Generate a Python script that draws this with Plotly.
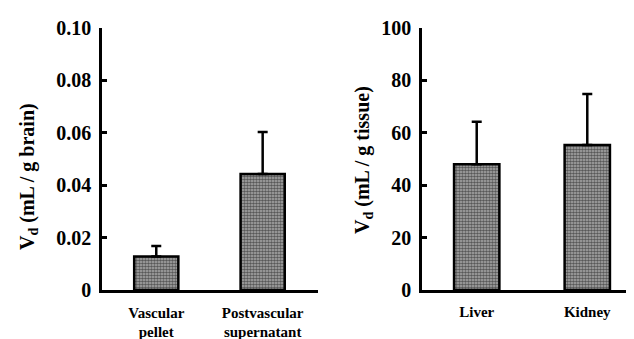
import plotly.graph_objects as go

# Data
brain_categories = ["Vascular<br>pellet", "Postvascular<br>supernatant"]
brain_values = [0.0128, 0.0443]
brain_errors = [0.0040, 0.0160]

tissue_categories = ["Liver", "Kidney"]
tissue_values = [48.0, 55.3]
tissue_errors = [16.2, 19.5]

brain_tickvals = [0, 0.02, 0.04, 0.06, 0.08, 0.10]
brain_ticktext = ["0", "0.02", "0.04", "0.06", "0.08", "0.10"]
tissue_tickvals = [0, 20, 40, 60, 80, 100]
tissue_ticktext = ["0", "20", "40", "60", "80", "100"]

FONT = "Liberation Serif, Times New Roman, serif"

def bar_trace(x, y, err, xa, ya, width):
    return go.Bar(
        x=x, y=y, xaxis=xa, yaxis=ya, width=width,
        marker=dict(
            color="white",
            line=dict(color="black", width=2.5),
            pattern=dict(shape=".", fgcolor="black", bgcolor="#b0b0b0", size=3, solidity=0.6),
        ),
        error_y=dict(type="data", array=err, arrayminus=[0] * len(err), symmetric=False,
                     color="black", thickness=2.5, width=5),
        showlegend=False,
    )

fig = go.Figure()
fig.add_trace(bar_trace(brain_categories, brain_values, brain_errors, "x", "y", 0.415))
fig.add_trace(bar_trace(tissue_categories, tissue_values, tissue_errors, "x2", "y2", 0.41))

W, H = 634, 339
axis_common = dict(showline=True, linecolor="black", linewidth=2.5, showgrid=False, zeroline=False)
tickfont = dict(family=FONT, size=20, color="black", weight="bold")
xtickfont = dict(family=FONT, size=15, color="black", weight="bold")

fig.update_layout(
    width=W, height=H,
    margin=dict(l=0, r=0, t=20, b=57),
    plot_bgcolor="white", paper_bgcolor="white",
    xaxis=dict(domain=[94 / W, 310 / W], range=[-0.51, 1.52], anchor="y",
               ticks="", tickfont=xtickfont, ticklabelstandoff=7, **axis_common),
    yaxis=dict(domain=[0, 1], range=[0, 0.1], anchor="x", tickvals=brain_tickvals,
               ticktext=brain_ticktext, ticks="inside", ticklen=5, tickwidth=2.5, tickcolor="black",
               tickfont=tickfont, ticklabelstandoff=4, **axis_common),
    xaxis2=dict(domain=[414 / W, 1.0], range=[-0.495, 1.495], anchor="y2",
                ticks="", tickfont=xtickfont, ticklabelstandoff=6, **axis_common),
    yaxis2=dict(domain=[0, 1], range=[0, 100], anchor="x2", tickvals=tissue_tickvals,
                ticktext=tissue_ticktext, ticks="inside", ticklen=5, tickwidth=2.5, tickcolor="black",
                tickfont=tickfont, ticklabelstandoff=4, **axis_common),
    annotations=[
        dict(text="<b>V<sub>d</sub> (mL / g brain)</b>", textangle=-90, xref="paper", yref="paper",
             x=20 / W, y=(282 - 169) / 262,
             xanchor="center", yanchor="middle", showarrow=False,
             font=dict(family=FONT, size=20, color="black")),
        dict(text="<b>V<sub>d</sub> (mL / g tissue)</b>", textangle=-90, xref="paper", yref="paper",
             x=355 / W, y=(282 - 152) / 262,
             xanchor="center", yanchor="middle", showarrow=False,
             font=dict(family=FONT, size=20, color="black")),
    ],
)

fig.write_html("out.html")
